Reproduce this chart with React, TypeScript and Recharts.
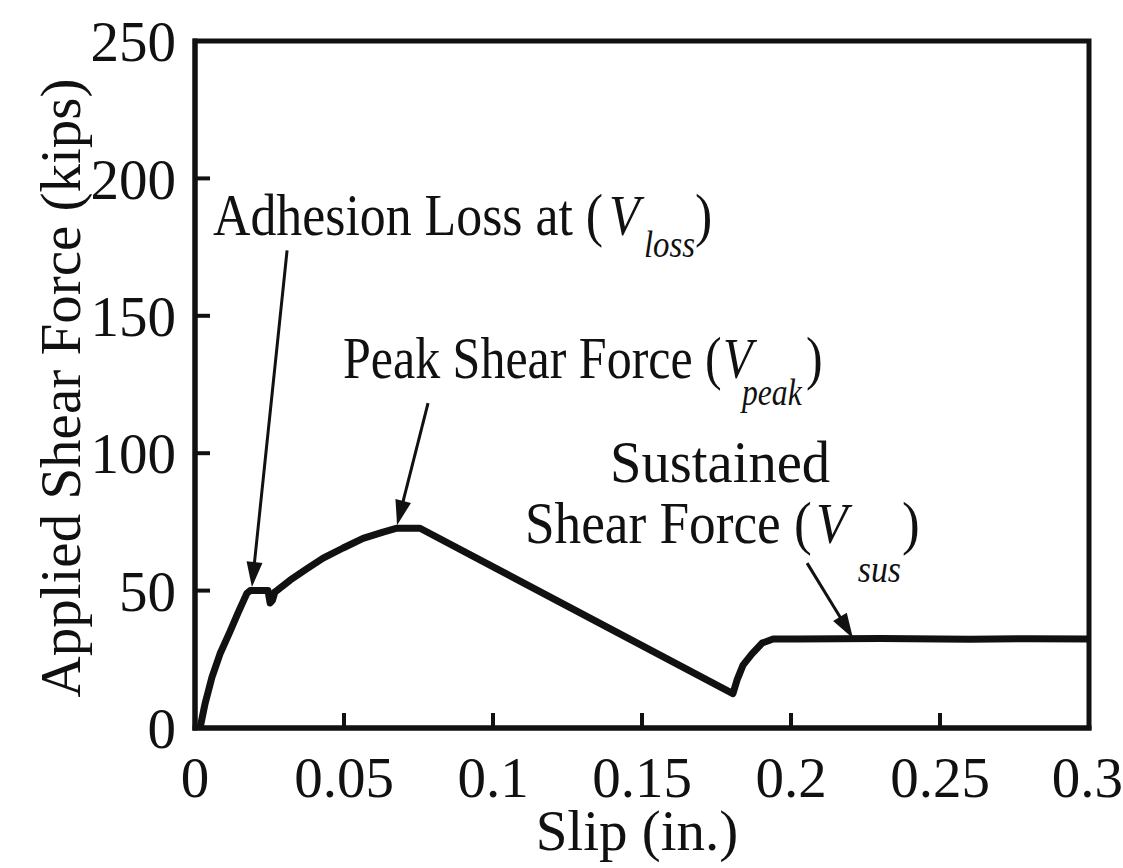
import React from "react"
import { LineChart, Line, XAxis, YAxis, ReferenceDot, ReferenceLine, ReferenceArea } from "recharts"

const SERIF = '"Liberation Serif", "Times New Roman", serif'
const INK = "#111"

// slip (in.) vs applied shear force (kips)
const slip = [
  0.0017, 0.0034, 0.0057, 0.0084, 0.0117, 0.0144, 0.0174, 0.0185, 0.0245, 0.0252, 0.026, 0.0268, 0.0275,
  0.0319, 0.0376, 0.043, 0.0497, 0.0564, 0.0631, 0.0678, 0.0755, 0.1805, 0.1819, 0.1839, 0.1869, 0.1903,
  0.194, 0.202, 0.23, 0.26, 0.28, 0.3,
]
const force = [
  0, 9, 18.5, 27, 35, 41.8, 49, 50, 50, 45.5, 46.5, 49.5, 50,
  53.8, 58, 61.8, 65.5, 69, 71.3, 72.7, 72.7, 12.5, 17.5, 22.9, 27, 30.9,
  32.4, 32.4, 32.6, 32.3, 32.5, 32.4,
]

const xTicks = [0, 0.05, 0.1, 0.15, 0.2, 0.25, 0.3]
const yTicks = [0, 50, 100, 150, 200, 250]

// callout arrows: [fromSlip, fromForce, toSlip, toForce]
const arrows = [
  [0.0309, 173.8, 0.0191, 51.3],
  [0.0782, 118.2, 0.0678, 73.8],
  [0.2054, 60, 0.2208, 32.7],
]

const data = slip.map((s, i) => ({ slip: s, force: force[i] }))

const Arrow = (p: any) => {
  const { x1, y1, x2, y2 } = p
  const dx = x2 - x1
  const dy = y2 - y1
  const len = Math.sqrt(dx * dx + dy * dy) || 1
  const ux = dx / len
  const uy = dy / len
  const head = 25
  const half = 8
  const bx = x2 - ux * head
  const by = y2 - uy * head
  const pts = `${x2},${y2} ${bx - uy * half},${by + ux * half} ${bx + uy * half},${by - ux * half}`
  return (
    <g>
      <line x1={x1} y1={y1} x2={bx + ux * 2} y2={by + uy * 2} stroke={INK} strokeWidth={3} />
      <polygon points={pts} fill={INK} />
    </g>
  )
}

// one text element per callout, squeezed horizontally like the scanned lettering
function callout(main: string, sx: number, vDx: number, sub: string, subDx: number, subDy: number, closeDx: number) {
  return (p: any) => {
    const { cx, cy } = p
    return (
      <g transform={`translate(${cx},${cy}) scale(${sx},1)`}>
        <text x={0} y={0} fontFamily={SERIF} fill={INK} fontSize={60}>
          <tspan>{main}</tspan>
          <tspan x={vDx / sx} fontStyle="italic" fontSize={58}>
            V
          </tspan>
          <tspan x={subDx / sx} y={subDy} fontStyle="italic" fontSize={38}>
            {sub}
          </tspan>
          <tspan x={closeDx / sx} y={0}>
            )
          </tspan>
        </text>
      </g>
    )
  }
}

const plainText = (txt: string, sx: number) => (p: any) => (
  <g transform={`translate(${p.cx},${p.cy}) scale(${sx},1)`}>
    <text x={0} y={0} fontFamily={SERIF} fill={INK} fontSize={60}>
      {txt}
    </text>
  </g>
)

const tickStyle = { fontSize: 57, fontFamily: SERIF, fill: INK }

export default function App() {
  return (
    <div style={{ position: "absolute", left: 0, top: 0, width: 1123, height: 868, background: "#fff" }}>
      <LineChart width={1123} height={868} data={data} margin={{ top: 41, right: 34, bottom: 0, left: 0 }}>
        <XAxis
          dataKey="slip"
          type="number"
          domain={[0, 0.3]}
          ticks={xTicks}
          height={140}
          tick={tickStyle}
          tickSize={-15}
          tickMargin={44}
          tickLine={{ stroke: INK, strokeWidth: 4 }}
          axisLine={{ stroke: INK, strokeWidth: 5, strokeLinecap: "square" }}
          label={{
            content: () => (
              <text x={637} y={850} textAnchor="middle" fontSize={57} fontFamily={SERIF} fill={INK}>
                Slip (in.)
              </text>
            ),
          }}
        />
        <YAxis
          type="number"
          domain={[0, 250]}
          ticks={yTicks}
          width={195}
          tick={tickStyle}
          tickSize={-15}
          tickMargin={34}
          tickLine={{ stroke: INK, strokeWidth: 4 }}
          axisLine={{ stroke: INK, strokeWidth: 5, strokeLinecap: "square" }}
          label={{
            content: () => (
              <text
                x={80}
                y={388}
                transform="rotate(-90, 80, 388)"
                textAnchor="middle"
                fontSize={57}
                fontFamily={SERIF}
                fill={INK}
              >
                Applied Shear Force (kips)
              </text>
            ),
          }}
        />
        <ReferenceArea
          x1={0}
          x2={0.3}
          y1={0}
          y2={250}
          fill="none"
          stroke={INK}
          strokeWidth={5}
          strokeLinejoin="miter"
          ifOverflow="visible"
        />
        <Line
          dataKey="force"
          type="linear"
          stroke={INK}
          strokeWidth={7}
          strokeLinejoin="round"
          dot={false}
          isAnimationActive={false}
        />
        {arrows.map((a, i) => (
          <ReferenceLine
            key={i}
            segment={[
              { x: a[0], y: a[1] },
              { x: a[2], y: a[3] },
            ]}
            ifOverflow="visible"
            shape={Arrow}
          />
        ))}
        <ReferenceDot
          x={0.00604}
          y={179.3}
          r={1}
          ifOverflow="visible"
          shape={callout("Adhesion Loss at (", 0.864, 396, "loss", 431, 22, 482)}
        />
        <ReferenceDot
          x={0.04966}
          y={127.3}
          r={1}
          ifOverflow="visible"
          shape={callout("Peak Shear Force (", 0.833, 380, "peak", 399, 27, 463)}
        />
        <ReferenceDot x={0.1393} y={89.5} r={1} ifOverflow="visible" shape={plainText("Sustained", 0.943)} />
        <ReferenceDot
          x={0.1107}
          y={67.3}
          r={1}
          ifOverflow="visible"
          shape={callout("Shear Force (", 0.888, 291, "sus", 333, 39, 377)}
        />
      </LineChart>
    </div>
  )
}
